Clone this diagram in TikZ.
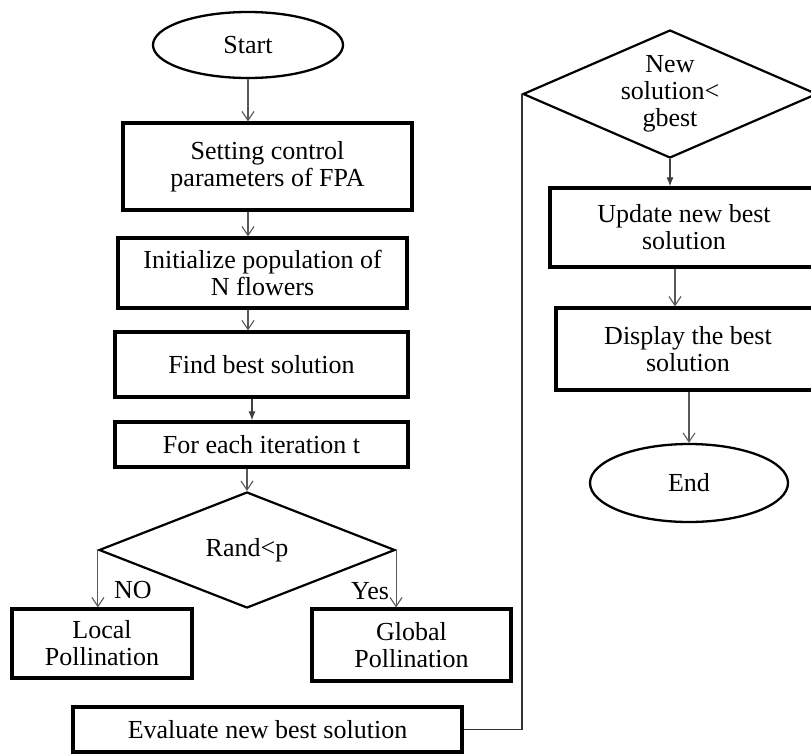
\documentclass[tikz,border=0pt]{standalone}
\usepackage{fontspec}
\setmainfont{Liberation Serif}
\usetikzlibrary{shapes.geometric,arrows.meta}
\tikzset{
  base/.style={font=\fontsize{26}{27}\selectfont, align=center, inner sep=0pt},
  procbox/.style={base, draw, rectangle, line width=3.2pt},
  term/.style={base, draw, ellipse, line width=2.3pt},
  decision/.style={draw, diamond, line width=2.2pt, inner sep=0pt},
  flow/.style={draw=black!65, line width=1.1pt, -{Straight Barb[length=9pt,width=12pt]}},
  flowfill/.style={draw=black!75, line width=1.1pt, -{Latex[length=9pt,width=7pt]}},
  link/.style={draw=black!80, line width=1.2pt},
  tag/.style={font=\fontsize{26}{27}\selectfont, inner sep=0pt},
}
\begin{document}
\begin{tikzpicture}[x=1pt,y=-1pt]
\useasboundingbox (0,0) rectangle (811,755);
\clip (0,0) rectangle (811,755);

% left column
\node[term, minimum width=190pt, minimum height=66pt] (start) at (248,45) {Start};
\node[procbox, minimum width=289pt, minimum height=87pt] (set) at (267.5,166.5) {Setting control\\parameters of FPA};
\node[procbox, minimum width=289pt, minimum height=70pt] (init) at (262.5,273) {Initialize population of\\N flowers};
\node[procbox, minimum width=293pt, minimum height=65pt] (find) at (261.5,364.5) {Find best solution};
\node[procbox, minimum width=293pt, minimum height=45pt] (foreach) at (261.5,444.5) {For each iteration t};
\node[decision, minimum width=296pt, minimum height=116pt] (rand) at (247,550) {};
\node[base] at (rand) {Rand<p};
\node[procbox, minimum width=180pt, minimum height=69pt] (local) at (102,643.5) {Local\\Pollination};
\node[procbox, minimum width=199pt, minimum height=72pt] (global) at (411.5,645) {Global\\Pollination};
\node[procbox, minimum width=389pt, minimum height=45pt] (eval) at (267.5,729.5) {Evaluate new best solution};

% right column
\node[decision, minimum width=294pt, minimum height=128pt] (newsol) at (670,94) {};
\node[base] at (newsol) {New\\solution<\\gbest};
\node[procbox, minimum width=268pt, minimum height=79pt] (update) at (684,227.5) {Update new best\\solution};
\node[procbox, minimum width=264pt, minimum height=82pt] (display) at (688,349) {Display the best\\solution};
\node[term, minimum width=198pt, minimum height=78pt] (end) at (689,483) {End};

% connectors
\draw[flow] (start.south) -- (start.south |- set.north);
\draw[flow] (start.south |- set.south) -- (start.south |- init.north);
\draw[flow] (start.south |- init.south) -- (start.south |- find.north);
\draw[flowfill] ([xshift=-9.5pt]find.south) -- ([xshift=-9.5pt]find.south |- foreach.north);
\draw[flow] (rand.north |- foreach.south) -- (rand.north);
\draw[flow] (rand.west) -- (rand.west |- local.north);
\draw[flow] (rand.east) -- (rand.east |- global.north);
\node[tag] (nolbl) at (133,590) {NO};
\node[tag] (yeslbl) at (370,591) {Yes};
\draw[link] (eval.east) -- (eval.east -| newsol.west) -- (newsol.west);
\draw[flowfill] (newsol.south) -- (newsol.south |- update.north);
\draw[flow] ([xshift=-9pt]update.south) -- ([xshift=-9pt]update.south |- display.north);
\draw[flow] (end.north |- display.south) -- (end.north);
\end{tikzpicture}
\end{document}
